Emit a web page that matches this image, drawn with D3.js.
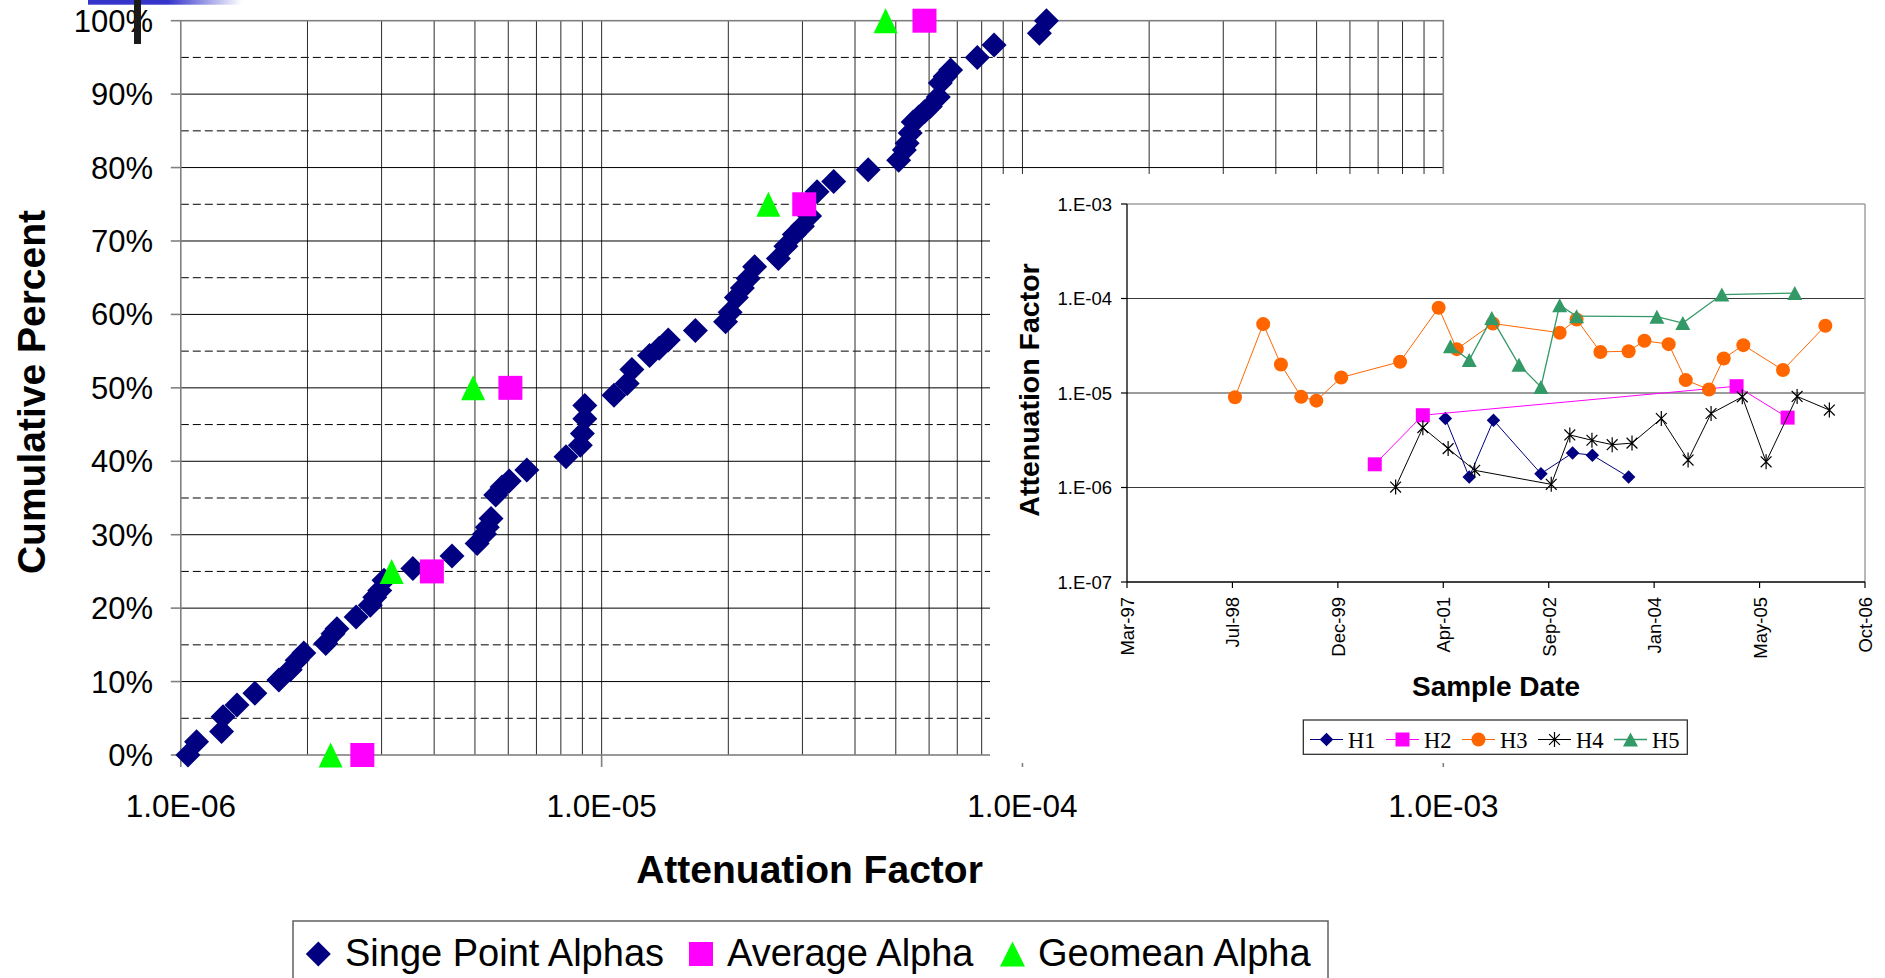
<!DOCTYPE html>
<html><head><meta charset="utf-8">
<script src="https://cdn.jsdelivr.net/npm/d3@7"></script>
<style>html,body{margin:0;padding:0;background:#fff;overflow:hidden}svg{display:block}</style>
</head><body>
<svg id="c" width="1885" height="978"></svg>
<script>
// ---------------- DATA (main cumulative chart) ----------------
const singleAlpha = [1.04e-6,1.09e-6,1.25e-6,1.26e-6,1.36e-6,1.50e-6,1.71e-6,1.82e-6,1.89e-6,1.96e-6,2.21e-6,2.30e-6,2.35e-6,2.61e-6,2.82e-6,2.89e-6,2.97e-6,3.04e-6,3.56e-6,4.41e-6,5.06e-6,5.27e-6,5.35e-6,5.46e-6,5.60e-6,5.80e-6,6.03e-6,6.64e-6,8.23e-6,8.90e-6,9.00e-6,9.12e-6,9.12e-6,1.07e-5,1.15e-5,1.18e-5,1.30e-5,1.37e-5,1.44e-5,1.67e-5,1.97e-5,2.02e-5,2.09e-5,2.16e-5,2.23e-5,2.31e-5,2.63e-5,2.74e-5,2.87e-5,3.00e-5,3.12e-5,3.25e-5,3.56e-5,4.30e-5,5.08e-5,5.24e-5,5.32e-5,5.41e-5,5.50e-5,5.67e-5,5.85e-5,6.04e-5,6.31e-5,6.38e-5,6.55e-5,6.75e-5,7.81e-5,8.56e-5,1.097e-4,1.14e-4];
const singlePct   = [0,1.8,3.2,5.2,6.8,8.4,10.2,11.6,12.9,13.9,15.2,16.5,17.2,18.8,20.4,21.5,22.4,23.8,25.4,27.1,28.8,30.1,31.0,32.2,35.4,36.5,37.3,38.8,40.6,42.2,43.8,45.8,47.6,49.0,50.6,52.5,54.4,55.4,56.5,57.8,59.0,60.3,62.3,63.6,64.9,66.5,67.6,69.3,70.9,72.0,73.4,76.7,78.1,79.7,81.0,82.4,83.3,84.7,86.2,86.9,87.6,88.3,89.6,91.5,92.4,93.3,95.0,96.7,98.3,100];
const avgAlpha = [2.70e-6,3.95e-6,6.07e-6,3.03e-5,5.85e-5];
const avgPct   = [0,25,50,75,100];
const geoAlpha = [2.27e-6,3.17e-6,4.95e-6,2.49e-5,4.73e-5];
const geoPct   = [0,25,50,75,100];
const xMajorTicks = [1e-6,1e-5,1e-4,1e-3];
const xTickLabels = ["1.0E-06","1.0E-05","1.0E-04","1.0E-03"];
const yMajorTicks = [0,10,20,30,40,50,60,70,80,90,100];
const yMinorTicks = [5,15,25,35,45,55,65,75,85,95];
const yTickLabels = ["0%","10%","20%","30%","40%","50%","60%","70%","80%","90%","100%"];
const mainLegend = ["Singe Point Alphas","Average Alpha","Geomean Alpha"];

// ---------------- DATA (inset time chart) ----------------
const h1Dates = ["2001-04-29","2001-08-20","2001-12-13","2002-07-26","2002-12-23","2003-03-27","2003-09-15"];
const h1Vals  = [5.37e-6,1.29e-6,5.15e-6,1.40e-6,2.32e-6,2.20e-6,1.29e-6];
const h2Dates = ["2000-05-29","2001-01-12","2005-02-08","2005-10-08"];
const h2Vals  = [1.76e-6,5.82e-6,1.18e-5,5.49e-6];
const h3Dates = ["1998-08-05","1998-12-17","1999-03-11","1999-06-15","1999-08-26","1999-12-22","2000-09-26","2001-03-28","2001-06-22","2001-12-10","2002-10-23","2003-01-11","2003-05-04","2003-09-15","2003-11-29","2004-03-23","2004-06-12","2004-09-30","2004-12-09","2005-03-12","2005-09-16","2006-04-05"];
const h3Vals  = [9.0e-6,5.36e-5,2.0e-5,9.1e-6,8.3e-6,1.46e-5,2.14e-5,7.98e-5,2.91e-5,5.44e-5,4.34e-5,6.0e-5,2.72e-5,2.77e-5,3.57e-5,3.29e-5,1.37e-5,1.09e-5,2.32e-5,3.21e-5,1.75e-5,5.14e-5];
const h4Dates = ["2000-09-05","2001-01-12","2001-05-12","2001-09-15","2002-09-13","2002-12-10","2003-03-25","2003-06-29","2003-10-01","2004-02-17","2004-06-23","2004-10-10","2005-03-07","2005-06-28","2005-11-22","2006-04-24"];
const h4Vals  = [1.01e-6,4.3e-6,2.58e-6,1.52e-6,1.08e-6,3.6e-6,3.16e-6,2.84e-6,2.95e-6,5.37e-6,1.95e-6,6.07e-6,9.1e-6,1.87e-6,9.2e-6,6.6e-6];
const h5Dates = ["2001-05-23","2001-08-20","2001-12-05","2002-04-13","2002-07-26","2002-10-23","2003-01-11","2004-01-27","2004-05-29","2004-11-30","2005-11-11"];
const h5Vals  = [3.13e-5,2.23e-5,6.2e-5,1.99e-5,1.16e-5,8.5e-5,6.5e-5,6.42e-5,5.5e-5,1.1e-4,1.14e-4];
const insetSeriesNames = ["H1","H2","H3","H4","H5"];
const insetDomain = ["1997-03-11","2006-10-10"];
const insetXTicks = ["1997-03-11","1998-07-24","1999-12-06","2001-04-19","2002-09-01","2004-01-14","2005-05-28","2006-10-10"];
const insetXTickLabels = ["Mar-97","Jul-98","Dec-99","Apr-01","Sep-02","Jan-04","May-05","Oct-06"];
const insetYTicks = [1e-7,1e-6,1e-5,1e-4,1e-3];
const insetYTickLabels = ["1.E-07","1.E-06","1.E-05","1.E-04","1.E-03"];

// ---------------- helpers ----------------
const SANS = "'Liberation Sans', Arial, Helvetica, sans-serif";
const SERIF = "'Liberation Serif', 'Times New Roman', serif";
const svg = d3.select("#c");
const parse = d3.utcParse("%Y-%m-%d");
function diamond(w,h){return `M0,${-h/2}L${w/2},0L0,${h/2}L${-w/2},0Z`;}
function square(s){return `M${-s/2},${-s/2}h${s}v${s}h${-s}Z`;}
function triangle(w,h){return `M0,${-h/2}L${w/2},${h/2}L${-w/2},${h/2}Z`;}
function circle(r){return `M${r},0A${r},${r} 0 1,1 ${-r},0A${r},${r} 0 1,1 ${r},0Z`;}
function asterisk(s){const d=s*0.72;return `M0,${-s}V${s}M${-d},${-d}L${d},${d}M${-d},${d}L${d},${-d}`;}

// ---------------- slide decorations ----------------
const defs = svg.append("defs");
const g0 = defs.append("linearGradient").attr("id","topbar").attr("x1",0).attr("x2",1);
g0.append("stop").attr("offset",0).attr("stop-color","#3535cc");
g0.append("stop").attr("offset",0.52).attr("stop-color","#3535cc");
g0.append("stop").attr("offset",1).attr("stop-color","#ffffff");
svg.append("rect").attr("x",88).attr("y",0).attr("width",154).attr("height",4.7).attr("fill","url(#topbar)");

// ---------------- main chart ----------------
const M = {l:180.8, r:1443.3, t:20.7, b:755};
const x = d3.scaleLog().domain([1e-6,1e-3]).range([M.l,M.r]);
const y = d3.scaleLinear().domain([0,100]).range([M.b,M.t]);
const main = svg.append("g");

main.selectAll(".dash").data(yMinorTicks).join("line")
  .attr("x1",M.l).attr("x2",M.r).attr("y1",d=>y(d)).attr("y2",d=>y(d))
  .attr("stroke","#000").attr("stroke-width",1).attr("stroke-dasharray","8,4");
main.selectAll(".vgrid").data(x.ticks().filter(d=>d>1e-6*1.001 && d<1e-3*0.999)).join("line")
  .attr("x1",d=>x(d)).attr("x2",d=>x(d)).attr("y1",M.t).attr("y2",M.b)
  .attr("stroke",(d,i)=>"#2a2a2a").attr("stroke-width",1);
main.selectAll(".hgrid").data(yMajorTicks.filter(d=>d>0&&d<100)).join("line")
  .attr("x1",M.l).attr("x2",M.r).attr("y1",d=>y(d)).attr("y2",d=>y(d))
  .attr("stroke","#000").attr("stroke-width",1);
// plot border / axes
main.append("rect").attr("x",M.l).attr("y",M.t).attr("width",M.r-M.l).attr("height",M.b-M.t)
  .attr("fill","none").attr("stroke","#808080").attr("stroke-width",1.6);
// ticks
main.selectAll(".yt").data(yMajorTicks).join("line")
  .attr("x1",M.l-10).attr("x2",M.l).attr("y1",d=>y(d)).attr("y2",d=>y(d))
  .attr("stroke","#808080").attr("stroke-width",1.6);
main.selectAll(".xt").data(xMajorTicks).join("line")
  .attr("x1",d=>x(d)).attr("x2",d=>x(d)).attr("y1",M.b).attr("y2",M.b+12)
  .attr("stroke","#808080").attr("stroke-width",1.6);
// tick labels
main.selectAll(".ytl").data(yMajorTicks).join("text")
  .attr("x",153).attr("y",d=>y(d)+11).attr("text-anchor","end")
  .attr("font-family",SANS).attr("font-size",31).attr("fill","#000")
  .text((d,i)=>yTickLabels[i]);
main.selectAll(".xtl").data(xMajorTicks).join("text")
  .attr("x",d=>x(d)).attr("y",817).attr("text-anchor","middle")
  .attr("font-family",SANS).attr("font-size",31.5).attr("fill","#000")
  .text((d,i)=>xTickLabels[i]);
// titles
main.append("text").attr("x",809.5).attr("y",883).attr("text-anchor","middle")
  .attr("font-family",SANS).attr("font-weight","bold").attr("font-size",39).text("Attenuation Factor");
main.append("text").attr("transform","translate(45,392) rotate(-90)").attr("text-anchor","middle")
  .attr("font-family",SANS).attr("font-weight","bold").attr("font-size",39).text("Cumulative Percent");

// markers
const NAVY="#000080", MAG="#ff00ff", LIME="#00ff00";
main.selectAll(".sp").data(singleAlpha).join("path")
  .attr("transform",(d,i)=>`translate(${x(d)},${y(singlePct[i])})`)
  .attr("d",diamond(25,25)).attr("fill",NAVY);
main.selectAll(".av").data(avgAlpha).join("path")
  .attr("transform",(d,i)=>`translate(${x(d)},${y(avgPct[i])})`)
  .attr("d",square(24)).attr("fill",MAG);
main.selectAll(".gm").data(geoAlpha).join("path")
  .attr("transform",(d,i)=>`translate(${x(d)},${y(geoPct[i])})`)
  .attr("d",triangle(24,25)).attr("fill",LIME);

// main legend
const lg = svg.append("g");
lg.append("rect").attr("x",293).attr("y",921).attr("width",1035).attr("height",90)
  .attr("fill","#fff").attr("stroke","#606060").attr("stroke-width",1.5);
const mlItems = [
  {sym:diamond(25,25), c:NAVY, mx:318.3, tx:345},
  {sym:square(24), c:MAG, mx:701, tx:727},
  {sym:triangle(25,25), c:LIME, mx:1012.5, tx:1038}
];
mlItems.forEach((it,i)=>{
  lg.append("path").attr("transform",`translate(${it.mx},954)`).attr("d",it.sym).attr("fill",it.c);
  lg.append("text").attr("x",it.tx).attr("y",966).attr("font-family",SANS).attr("font-size",38).text(mainLegend[i]);
});

// ---------------- inset chart ----------------
const ins = svg.append("g");
ins.append("rect").attr("x",990).attr("y",174).attr("width",895).attr("height",589).attr("fill","#fff");
const I = {l:1127, r:1865, t:204, b:582};
const ix = d3.scaleUtc().domain(insetDomain.map(parse)).range([I.l,I.r]);
const iy = d3.scaleLog().domain([1e-7,1e-3]).range([I.b,I.t]);

ins.selectAll(".ig").data(insetYTicks.slice(1,4)).join("line")
  .attr("x1",I.l).attr("x2",I.r).attr("y1",d=>iy(d)).attr("y2",d=>iy(d))
  .attr("stroke","#3a3a3a").attr("stroke-width",1.2);
ins.append("line").attr("x1",I.l).attr("x2",I.r).attr("y1",I.t).attr("y2",I.t).attr("stroke","#a0a0a0").attr("stroke-width",1.5);
ins.append("line").attr("x1",I.r).attr("x2",I.r).attr("y1",I.t).attr("y2",I.b).attr("stroke","#a0a0a0").attr("stroke-width",1.5);
ins.append("line").attr("x1",I.l).attr("x2",I.l).attr("y1",I.t).attr("y2",I.b).attr("stroke","#000").attr("stroke-width",1.3);
ins.append("line").attr("x1",I.l).attr("x2",I.r).attr("y1",I.b).attr("y2",I.b).attr("stroke","#000").attr("stroke-width",1.3);
ins.selectAll(".iyt").data(insetYTicks).join("line")
  .attr("x1",I.l-6).attr("x2",I.l).attr("y1",d=>iy(d)).attr("y2",d=>iy(d)).attr("stroke","#000").attr("stroke-width",1.2);
ins.selectAll(".iytl").data(insetYTicks).join("text")
  .attr("x",1112).attr("y",d=>iy(d)+6.6).attr("text-anchor","end")
  .attr("font-family",SANS).attr("font-size",18.5).text((d,i)=>insetYTickLabels[i]);
ins.selectAll(".ixt").data(insetXTicks).join("line")
  .attr("x1",d=>ix(parse(d))).attr("x2",d=>ix(parse(d))).attr("y1",I.b).attr("y2",I.b+6).attr("stroke","#000").attr("stroke-width",1.2);
ins.selectAll(".ixtl").data(insetXTicks).join("text")
  .attr("transform",d=>`translate(${ix(parse(d))+7},597) rotate(-90)`).attr("text-anchor","end")
  .attr("font-family",SANS).attr("font-size",18.5).text((d,i)=>insetXTickLabels[i]);
ins.append("text").attr("transform","translate(1039,390) rotate(-90)").attr("text-anchor","middle")
  .attr("font-family",SANS).attr("font-weight","bold").attr("font-size",28.5).text("Attenuation Factor");
ins.append("text").attr("x",1496).attr("y",696).attr("text-anchor","middle")
  .attr("font-family",SANS).attr("font-weight","bold").attr("font-size",28).text("Sample Date");

const series = [
  {dates:h1Dates, vals:h1Vals, c:"#000080", lw:1, sym:diamond(13.5,13.5), fill:true},
  {dates:h2Dates, vals:h2Vals, c:"#ff00ff", lw:1, sym:square(14), fill:true},
  {dates:h3Dates, vals:h3Vals, c:"#ff6600", lw:1, sym:circle(7), fill:true},
  {dates:h4Dates, vals:h4Vals, c:"#000000", lw:1, sym:asterisk(7.5), fill:false},
  {dates:h5Dates, vals:h5Vals, c:"#339966", lw:1.3, sym:triangle(15,14), fill:true}
];
const line = d3.line().x(d=>ix(d[0])).y(d=>iy(d[1]));
series.forEach(s=>{
  const pts = s.dates.map((d,i)=>[parse(d), s.vals[i]]);
  ins.append("path").attr("d",line(pts)).attr("fill","none").attr("stroke",s.c).attr("stroke-width",s.lw);
  ins.selectAll(null).data(pts).join("path")
    .attr("transform",d=>`translate(${ix(d[0])},${iy(d[1])})`)
    .attr("d",s.sym)
    .attr("fill",s.fill?s.c:"none").attr("stroke",s.fill?"none":s.c).attr("stroke-width",1.2);
});

// inset legend
const il = svg.append("g");
il.append("rect").attr("x",1303.3).attr("y",720).attr("width",384).attr("height",34.3)
  .attr("fill","#fff").attr("stroke","#222").attr("stroke-width",1.2);
series.forEach((s,i)=>{
  const x0 = 1310 + i*76;
  il.append("line").attr("x1",x0).attr("x2",x0+33).attr("y1",739.5).attr("y2",739.5).attr("stroke",s.c).attr("stroke-width",s.lw);
  il.append("path").attr("transform",`translate(${x0+16.5},739.5)`).attr("d",s.sym)
    .attr("fill",s.fill?s.c:"none").attr("stroke",s.fill?"none":s.c).attr("stroke-width",1.2);
  il.append("text").attr("x",x0+38).attr("y",747.5).attr("font-family",SERIF).attr("font-size",22.5).text(insetSeriesNames[i]);
});

// black slide cursor bar (drawn over everything)
svg.append("rect").attr("x",134).attr("y",0).attr("width",7).attr("height",44).attr("fill","#1a1a1a");
</script>
</body></html>
